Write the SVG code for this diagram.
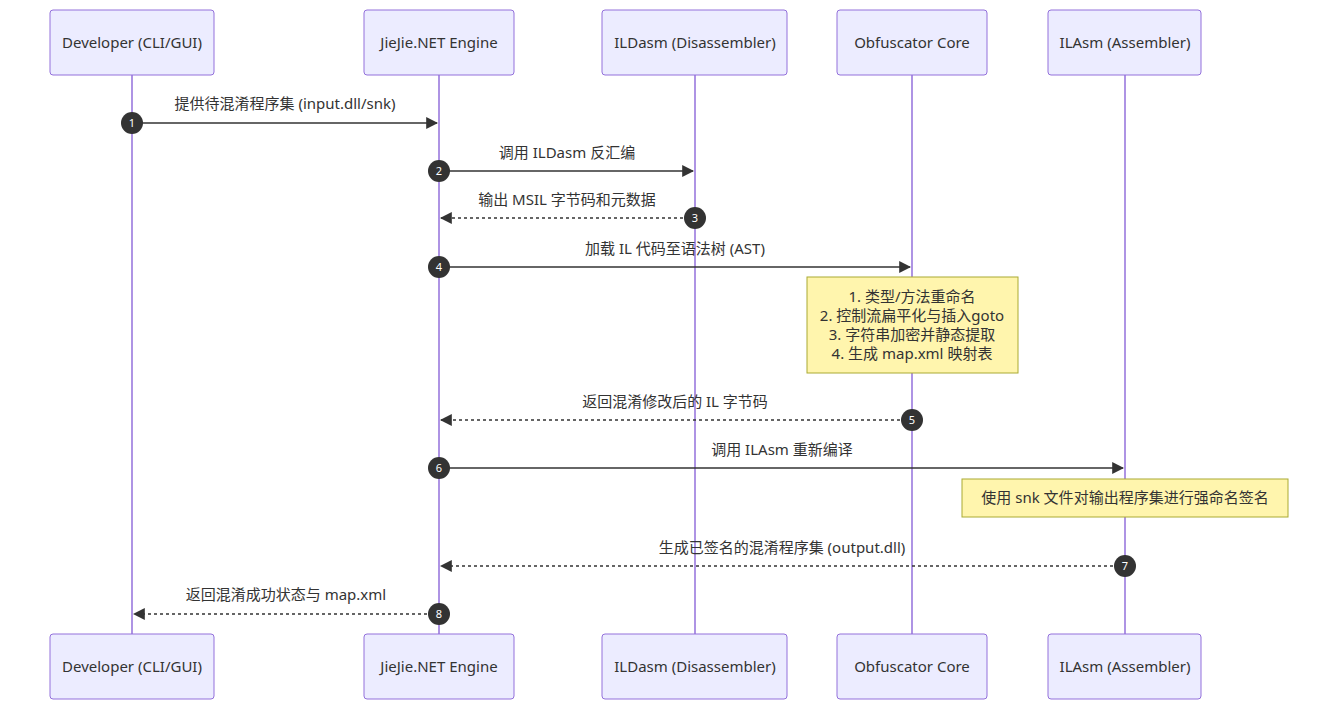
<svg xmlns="http://www.w3.org/2000/svg" width="1338" height="710" viewBox="0 0 1338 710">
<style>
.actor{fill:#ECECFF;stroke:#9370DB;stroke-width:1}
.life{stroke:#9370DB;stroke-width:1.5}
.t{font-family:"Noto Sans","Noto Sans CJK SC",sans-serif;font-size:15px;fill:#333;text-anchor:middle}
.msg{stroke:#333;stroke-width:1.5;fill:none}
.dash{stroke-dasharray:3,3}
.num{fill:#333}
.nt{font-family:"Noto Sans",sans-serif;font-size:11px;fill:#fff;text-anchor:middle}
.note{fill:#fff5ad;stroke:#aaaa33}
</style>
<defs>
<marker id="ah" viewBox="0 0 10 10" refX="9" refY="5" markerWidth="8" markerHeight="8" orient="auto"><path d="M0,0L10,5L0,10z" fill="#333"/></marker>
</defs>
<g id="lifelines">
<line class="life" x1="132" y1="75" x2="132" y2="634"/>
<line class="life" x1="439" y1="75" x2="439" y2="634"/>
<line class="life" x1="695" y1="75" x2="695" y2="634"/>
<line class="life" x1="912" y1="75" x2="912" y2="634"/>
<line class="life" x1="1125" y1="75" x2="1125" y2="634"/>
</g>
<g id="actor-dev"><rect class="actor" x="50" y="10" width="164" height="65" rx="3"/><text class="t" x="132" y="48">Developer (CLI/GUI)</text></g>
<g id="actor-jj"><rect class="actor" x="364" y="10" width="150" height="65" rx="3"/><text class="t" x="439" y="48">JieJie.NET Engine</text></g>
<g id="actor-ild"><rect class="actor" x="602" y="10" width="185" height="65" rx="3"/><text class="t" x="695" y="48">ILDasm (Disassembler)</text></g>
<g id="actor-obf"><rect class="actor" x="837" y="10" width="150" height="65" rx="3"/><text class="t" x="912" y="48">Obfuscator Core</text></g>
<g id="actor-ila"><rect class="actor" x="1048" y="10" width="153" height="65" rx="3"/><text class="t" x="1125" y="48">ILAsm (Assembler)</text></g>
<g id="actor-dev-b"><rect class="actor" x="50" y="634" width="164" height="65" rx="3"/><text class="t" x="132" y="672">Developer (CLI/GUI)</text></g>
<g id="actor-jj-b"><rect class="actor" x="364" y="634" width="150" height="65" rx="3"/><text class="t" x="439" y="672">JieJie.NET Engine</text></g>
<g id="actor-ild-b"><rect class="actor" x="602" y="634" width="185" height="65" rx="3"/><text class="t" x="695" y="672">ILDasm (Disassembler)</text></g>
<g id="actor-obf-b"><rect class="actor" x="837" y="634" width="150" height="65" rx="3"/><text class="t" x="912" y="672">Obfuscator Core</text></g>
<g id="actor-ila-b"><rect class="actor" x="1048" y="634" width="153" height="65" rx="3"/><text class="t" x="1125" y="672">ILAsm (Assembler)</text></g>
<g id="note1"><rect class="note" x="807" y="277" width="211" height="96"/>
<text class="t" x="912" y="302">1. 类型/方法重命名</text>
<text class="t" x="912" y="321">2. 控制流扁平化与插入goto</text>
<text class="t" x="912" y="340">3. 字符串加密并静态提取</text>
<text class="t" x="912" y="359">4. 生成 map.xml 映射表</text></g>
<g id="note2"><rect class="note" x="962" y="479" width="326" height="38"/>
<text class="t" x="1125" y="503">使用 snk 文件对输出程序集进行强命名签名</text></g>
<g id="messages">
<text class="t" x="285" y="109">提供待混淆程序集 (input.dll/snk)</text>
<line class="msg" x1="132" y1="123" x2="437" y2="123" marker-end="url(#ah)"/>
<text class="t" x="567" y="158">调用 ILDasm 反汇编</text>
<line class="msg" x1="439" y1="171" x2="693" y2="171" marker-end="url(#ah)"/>
<text class="t" x="567" y="205">输出 MSIL 字节码和元数据</text>
<line class="msg dash" x1="695" y1="218" x2="441" y2="218" marker-end="url(#ah)"/>
<text class="t" x="675" y="254">加载 IL 代码至语法树 (AST)</text>
<line class="msg" x1="439" y1="267" x2="910" y2="267" marker-end="url(#ah)"/>
<text class="t" x="675" y="407">返回混淆修改后的 IL 字节码</text>
<line class="msg dash" x1="912" y1="420" x2="441" y2="420" marker-end="url(#ah)"/>
<text class="t" x="782" y="455">调用 ILAsm 重新编译</text>
<line class="msg" x1="439" y1="468" x2="1123" y2="468" marker-end="url(#ah)"/>
<text class="t" x="782" y="553">生成已签名的混淆程序集 (output.dll)</text>
<line class="msg dash" x1="1125" y1="566" x2="441" y2="566" marker-end="url(#ah)"/>
<text class="t" x="286" y="600">返回混淆成功状态与 map.xml</text>
<line class="msg dash" x1="439" y1="614" x2="134" y2="614" marker-end="url(#ah)"/>
</g>
<g id="numbers">
<circle class="num" cx="132" cy="123" r="11"/><text class="nt" x="132" y="127">1</text>
<circle class="num" cx="439" cy="171" r="11"/><text class="nt" x="439" y="175">2</text>
<circle class="num" cx="695" cy="218" r="11"/><text class="nt" x="695" y="222">3</text>
<circle class="num" cx="439" cy="267" r="11"/><text class="nt" x="439" y="271">4</text>
<circle class="num" cx="912" cy="420" r="11"/><text class="nt" x="912" y="424">5</text>
<circle class="num" cx="439" cy="468" r="11"/><text class="nt" x="439" y="472">6</text>
<circle class="num" cx="1125" cy="566" r="11"/><text class="nt" x="1125" y="570">7</text>
<circle class="num" cx="439" cy="614" r="11"/><text class="nt" x="439" y="618">8</text>
</g>
</svg>
